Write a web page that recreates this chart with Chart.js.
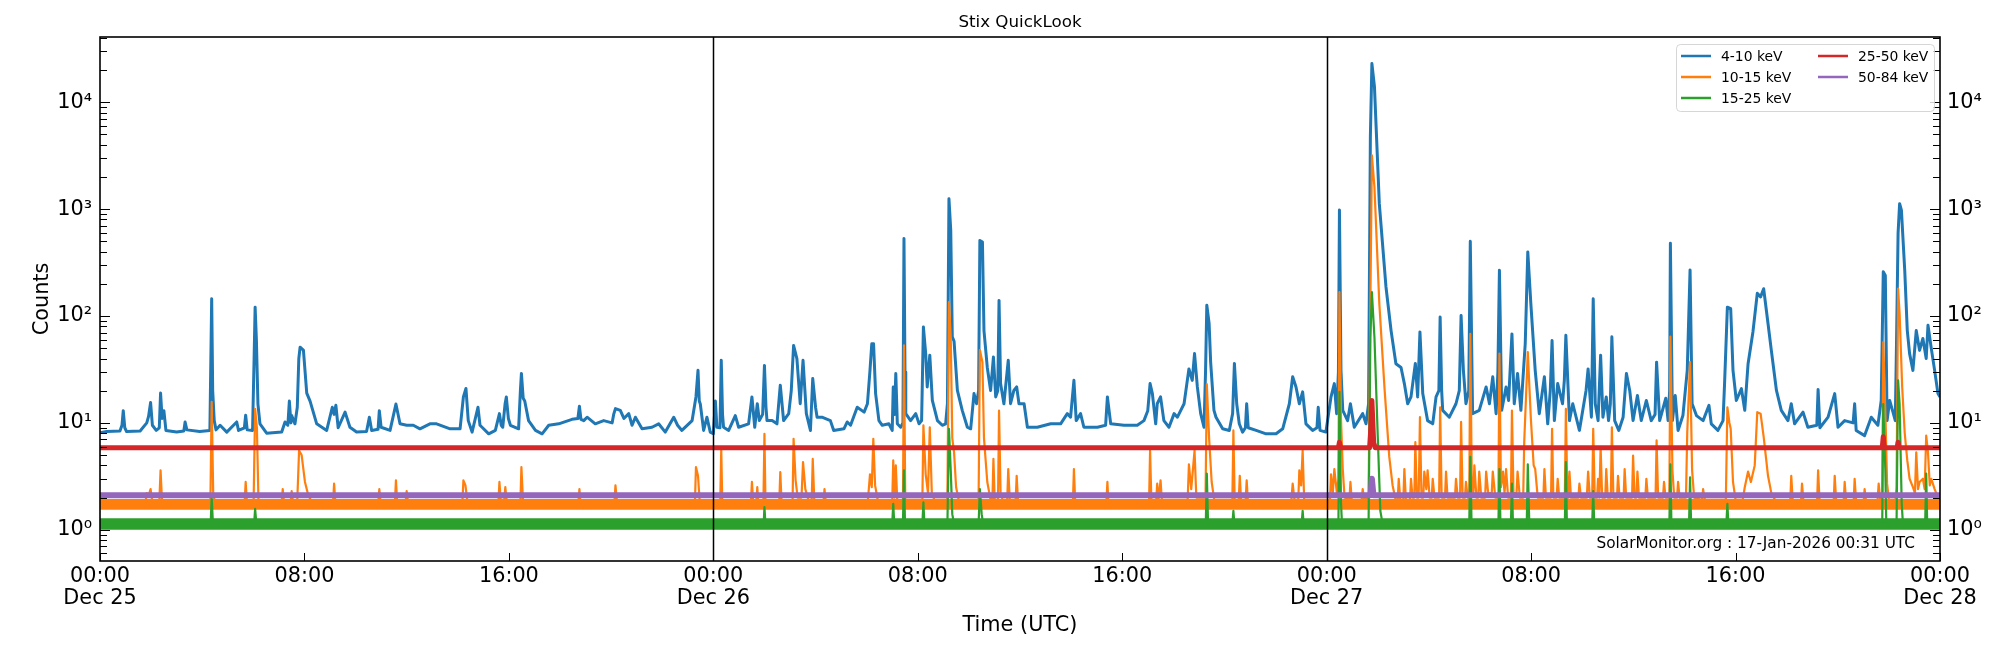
<!DOCTYPE html>
<html>
<head>
<meta charset="utf-8">
<title>Stix QuickLook</title>
<script src="https://cdn.jsdelivr.net/npm/chart.js@4.4.1/dist/chart.umd.min.js"></script>
<style>
  html, body { margin: 0; padding: 0; background: #fff; }
  #wrap { width: 2000px; height: 650px; }
</style>
</head>
<body>
<div id="wrap"><canvas id="stixChart"></canvas></div>
<script>
// time = hours since 25-Dec 00:00 UTC, value = counts
const counts4to10 = [
  [0,8.1],[0.26,8.3],[0.78,8.4],[0.86,9.5],[0.91,13],[0.97,9],[1.04,8.3],[1.57,8.4],[1.83,10],[1.9,11.5],[1.98,15.5],[2.05,9.5],[2.2,8.5],[2.32,9],[2.37,19],[2.43,11],[2.5,13],[2.58,8.5],
  [3.0,8.2],[3.28,8.4],[3.33,10.2],[3.4,8.6],[3.9,8.3],[4.3,8.5],[4.37,145],[4.41,20],[4.47,10.5],[4.54,8.6],[4.7,9.5],[4.96,8.2],[5.35,10.2],[5.42,8.5],[5.65,9],[5.7,11.8],[5.76,8.6],[5.97,8.5],
  [6.03,40],[6.07,121],[6.12,60],[6.18,15],[6.26,9.8],[6.52,8],[7.11,8.2],[7.24,10.2],[7.35,9.5],[7.41,16],[7.47,10],[7.5,11.7],[7.63,9.8],[7.72,14],[7.78,40],[7.83,51],[7.96,48],[8.09,19],[8.22,16],
  [8.48,9.8],[8.87,8.5],[9.09,14],[9.16,12],[9.23,14.6],[9.32,9],[9.59,12.6],[9.78,9.1],[10.04,8.2],[10.43,8.3],[10.54,11.3],[10.63,8.5],[10.88,8.7],[10.93,13],[11.0,9.1],[11.35,8.5],[11.58,15],
  [11.74,9.8],[12.0,9.5],[12.26,9.5],[12.52,8.8],[12.91,9.8],[13.17,9.8],[13.7,8.8],[14.09,8.8],[14.22,17.5],[14.32,21],[14.41,10.5],[14.56,8.2],
  [14.79,14],[14.87,9.5],[14.95,9.1],[15.21,7.9],[15.47,8.5],[15.63,12.2],[15.7,9.5],[15.76,9.1],[15.85,15],[15.9,17.5],[15.98,11],[16.06,9.5],[16.38,8.8],[16.45,20],[16.49,29],[16.56,17],[16.62,16],
  [16.77,10.5],[17.04,8.5],[17.3,7.9],[17.56,9.5],[17.95,9.8],[18.47,10.8],[18.7,11],[18.76,14.3],[18.82,10.8],[18.93,10.5],[19.06,11.3],[19.38,9.8],[19.71,10.5],[20.04,10],[20.1,12],[20.17,13.6],
  [20.36,13.1],[20.5,11],[20.69,12.2],[20.82,9.5],[20.95,11.3],[21.21,8.8],[21.6,9.1],[21.86,9.8],[22.12,8.2],[22.45,11.3],[22.6,9.5],[22.77,8.5],[23.17,10.5],[23.32,17.5],[23.4,31],[23.45,16],
  [23.49,15],[23.62,8.5],[23.75,11.3],[23.88,8.2],[24.0,7.9],[24.08,16],[24.14,9.1],[24.26,9],[24.31,38.5],[24.36,12],[24.4,9.1],[24.6,8.5],[24.86,11.7],[24.99,9.1],[25.38,9.8],[25.51,17.5],
  [25.62,9.1],[25.72,15.1],[25.8,10.5],[25.93,12],[26.0,34.5],[26.06,14],[26.1,10.5],[26.3,10.5],[26.49,9.8],[26.62,22.5],[26.75,10.5],[26.95,12.2],[27.05,20],[27.14,53],[27.27,40],[27.4,15.1],
  [27.51,38.5],[27.64,12.2],[27.8,8.5],[27.89,26],[28.0,14],[28.06,11.3],[28.25,11.3],[28.58,10.5],[28.71,8.5],[29.11,8.8],
  [29.24,10.2],[29.37,9.5],[29.63,14],[29.9,12.6],[30.03,15.1],[30.13,31],[30.2,55],[30.27,55],[30.35,18.8],[30.48,10.5],[30.61,9.5],[30.87,9.8],[31.0,8.5],[31.04,21.7],[31.09,12],[31.14,29],
  [31.2,9.8],[31.33,9.1],[31.42,10],[31.46,530],[31.5,30],[31.53,12.2],[31.72,10.5],[31.92,12.2],[32.05,9.8],[32.15,10.5],[32.22,79],[32.31,44.5],[32.37,21.7],[32.47,43],[32.57,16.2],[32.77,10.5],
  [32.96,9.5],[33.09,9.8],[33.16,15.1],[33.22,1250],[33.29,634],[33.35,64],[33.42,58],[33.55,20.1],[33.74,13.1],[33.94,9.1],[34.07,8.8],[34.2,18.8],[34.3,15.1],[34.38,20],[34.43,510],[34.53,492],
  [34.59,73],[34.72,33],[34.85,20.1],[34.96,41.3],[35.05,17.5],[35.13,20],[35.18,140],[35.24,23.3],[35.37,15.1],[35.54,38.5],[35.63,15.1],[35.76,20.1],[35.87,21.7],[35.96,15.1],[36.16,15.1],
  [36.29,9.1],[36.68,9.1],[37.2,9.8],[37.59,9.8],[37.85,12.2],[37.98,11.3],[38.11,25],[38.2,10.5],[38.37,12.2],[38.5,9.1],[39.03,9.1],[39.35,9.5],[39.42,17.5],[39.55,9.8],[40.07,9.5],[40.59,9.5],
  [40.85,10.5],[41.0,13],[41.09,23.3],[41.18,18.8],[41.31,9.8],[41.37,15.1],[41.5,17.5],[41.63,10.5],[41.83,9.1],[42.03,12.2],[42.16,11.3],[42.42,15.1],[42.61,32],[42.74,25],[42.83,44.5],
  [42.94,21.7],[43.07,12.2],[43.2,9.1],[43.26,30],[43.31,126],[43.4,85],[43.46,37],[43.59,13.1],[43.67,11.3],
  [43.93,8.8],[44.19,8.5],[44.32,12.2],[44.39,36],[44.48,15.1],[44.58,9.8],[44.71,8.2],[44.82,9],[44.87,15.1],[44.93,9],[45.24,8.5],[45.63,7.9],[46.02,7.9],[46.28,8.8],[46.54,15.1],[46.67,27],
  [46.8,21.7],[46.93,15.1],[47.06,19.5],[47.19,9.8],[47.45,8.5],[47.62,9],[47.67,14],[47.74,8.5],[47.97,8.2],[48.17,17.5],[48.3,23.3],[48.39,12.2],[48.46,30],[48.5,980],[48.56,31],[48.63,13.1],
  [48.82,10.5],[48.93,15.1],[49.08,9.1],[49.41,12.2],[49.54,9.8],[49.64,15.1],[49.71,4700],[49.77,23000],[49.87,14000],[50.06,1125],[50.32,188],[50.52,73],[50.71,35.8],[50.91,33],[51.04,23.3],
  [51.17,15.1],[51.3,17.5],[51.47,36],[51.56,17.5],[51.65,71],[51.76,18.8],[51.95,10.5],[52.15,9.8],[52.28,17.5],[52.39,20],[52.44,98],[52.5,20],[52.54,13.1],[52.8,11.3],[53.06,15.1],[53.19,20],
  [53.26,101],[53.35,31],[53.45,15.1],[53.56,20],[53.62,500],[53.71,12.2],[53.97,13.1],[54.24,21.7],[54.37,15.1],[54.5,27],[54.63,12.2],[54.7,30],[54.76,268],[54.85,13.1],[55.02,21.7],
  [55.12,16.2],[55.25,68],[55.34,15.1],[55.47,29],[55.6,13.1],[55.77,55],[55.87,398],[55.99,130],[56.16,31],[56.32,12.2],[56.52,27],[56.65,9.8],[56.75,20],[56.82,59],[56.91,10.5],[57.04,23.3],
  [57.23,15.1],[57.3,25],[57.36,66],[57.5,10.5],[57.63,15.1],[57.89,8.5],[58.15,20.1],[58.23,32],
  [58.36,11.3],[58.43,145],[58.51,15.1],[58.62,10.5],[58.72,43],[58.81,11.3],[58.94,17.5],[59.03,10.5],[59.1,15],[59.16,64],[59.27,10.5],[59.43,8.5],[59.6,11.3],[59.73,29],[59.86,20],[59.99,10.5],
  [60.16,18],[60.31,10.5],[60.51,16.2],[60.7,10.5],[60.85,12],[60.91,37],[61.03,10.5],[61.27,17],[61.36,10.5],[61.42,20],[61.45,480],[61.53,10.5],[61.64,18],[61.75,8.5],[61.94,11.7],[62.11,31],
  [62.22,270],[62.3,15.1],[62.47,11.7],[62.73,10.5],[62.96,14.6],[63.05,9.8],[63.31,8.5],[63.51,10.5],[63.57,23.3],[63.68,121],[63.81,117],[63.9,31],[64.03,16.2],[64.23,20.9],[64.36,13.1],
  [64.49,35.8],[64.68,71],[64.85,163],[64.98,151],[65.1,180],[65.27,85],[65.4,47.7],[65.6,20.1],[65.79,13.1],[66.05,10.5],[66.18,15.1],[66.31,9.8],[66.64,12.6],[66.83,9.1],[67.18,9.5],[67.23,20.5],
  [67.3,9],[67.62,11.3],[67.88,18.8],[68.01,9.1],[68.27,10.5],[68.6,10],[68.66,15.1],[68.72,8.5],[69.05,7.6],[69.31,11.3],[69.57,9.5],[69.7,16.2],[69.78,260],[69.86,240],[69.93,10.5],[70.03,16.2],
  [70.16,12.6],[70.25,10.5],[70.3,60],[70.36,600],[70.42,1125],[70.49,980],[70.62,268],[70.72,73],[70.81,44.5],[70.94,31],[71.07,73],[71.2,47.7],[71.33,61.6],[71.46,40],[71.53,81.8],[71.66,49.5],
  [71.79,31],[71.92,18.8],[72.0,17.5]
];

const counts10to15 = [
  [0,1.75],[1.78,1.8],[1.83,2.2],[1.9,2.1],[1.98,2.4],[2.05,1.8],[2.32,1.8],[2.37,3.6],[2.43,1.8],[4.32,1.8],[4.37,15.7],[4.43,2.2],[4.5,1.8],[5.66,1.8],[5.7,2.8],[5.75,1.8],
  [6.01,1.8],[6.07,13.5],[6.14,9],[6.2,1.9],[7.11,1.8],[7.15,2.4],[7.2,1.8],[7.46,1.8],[7.5,2.3],[7.55,1.8],[7.72,1.9],[7.79,5.5],[7.89,5.0],[8.02,2.8],[8.15,2.1],[8.3,1.8],
  [9.12,1.8],[9.16,2.7],[9.21,1.8],[10.89,1.8],[10.93,2.4],[10.98,1.8],[11.54,1.8],[11.58,2.9],[11.63,1.8],[11.96,1.8],[12.0,2.3],[12.05,1.8],[14.18,1.8],[14.22,2.9],[14.3,2.6],[14.38,1.8],
  [15.59,1.8],[15.63,2.8],[15.68,1.9],[15.82,1.9],[15.86,2.5],[15.92,1.8],[16.45,1.8],[16.49,3.86],[16.55,1.9],[18.72,1.8],[18.76,2.4],[18.8,1.8],[20.13,1.8],[20.17,2.6],[20.23,1.8],
  [23.28,1.8],[23.32,3.86],[23.4,3.2],[23.47,1.8],[24.27,1.8],[24.31,5.7],[24.35,1.8],[25.47,1.8],[25.51,2.8],[25.56,1.8],[25.68,1.8],[25.72,2.5],[25.76,1.8],[25.96,1.8],[26.0,7.9],[26.04,1.8],
  [26.58,1.8],[26.62,3.46],[26.67,1.8],[27.1,1.8],[27.14,7.1],[27.22,2.9],[27.3,2.0],[27.45,2.0],[27.51,4.3],[27.6,2.4],[27.72,1.9],[27.85,1.9],[27.89,4.6],[27.95,1.9],[28.31,1.8],[28.35,2.4],[28.4,1.8],
  [30.05,1.9],[30.13,3.3],[30.2,2.5],[30.26,7.1],[30.33,2.6],[30.45,1.8],[31.0,1.8],[31.04,4.45],[31.09,2.0],[31.14,4.0],[31.2,1.8],[31.42,1.8],[31.46,53],[31.51,1.9],
  [32.18,1.9],[32.22,9.5],[32.31,3.3],[32.4,2.2],[32.47,9.1],[32.55,2.2],[32.65,1.9],[33.16,1.9],[33.22,135],[33.29,64],[33.35,7.2],[33.42,5.3],[33.5,2.5],[33.6,1.9],
  [34.38,1.9],[34.43,48],[34.53,37],[34.59,7.2],[34.72,2.8],[34.85,1.9],[34.92,1.9],[34.96,4.6],[35.01,1.9],[35.14,1.9],[35.18,13],[35.24,2.2],[35.32,1.9],[35.5,1.9],[35.54,3.7],[35.6,1.9],
  [35.83,1.9],[35.87,3.2],[35.92,1.9],[38.07,1.8],[38.11,3.7],[38.16,1.8],[39.38,1.8],[39.42,2.8],[39.46,1.8],[41.05,1.8],[41.09,5.5],[41.14,1.9],[41.33,1.9],[41.37,2.7],[41.42,1.9],[41.5,2.9],[41.55,1.9],
  [42.56,1.9],[42.61,4.1],[42.7,2.4],[42.83,5.5],[42.9,2.0],[43.26,2.0],[43.31,23],[43.4,7.2],[43.5,2.8],[43.6,1.9],[44.31,1.9],[44.35,8.5],[44.4,1.9],
  [44.56,1.9],[44.6,3.2],[44.65,1.9],[44.83,1.9],[44.87,2.9],[44.92,1.8],[46.62,1.9],[46.67,2.7],[46.74,1.9],[46.89,1.9],[46.93,3.6],[47.0,2.6],[47.06,5.5],[47.12,1.9],
  [48.13,1.9],[48.17,3.3],[48.24,2.2],[48.3,3.7],[48.4,2.2],[48.46,3.0],[48.5,167],[48.56,11],[48.63,3.7],[48.7,2.0],[48.89,1.9],[48.93,2.8],[48.98,1.9],[49.37,1.9],[49.41,2.4],[49.47,1.9],
  [49.64,2.0],[49.71,131],[49.77,3180],[49.87,1600],[50.06,131],[50.26,21.7],[50.45,4.8],[50.58,2.6],[50.7,1.9],
  [50.78,1.9],[50.82,3.0],[50.88,1.9],[51.0,1.9],[51.04,3.7],[51.1,1.9],[51.26,1.9],[51.3,3.0],[51.36,2.0],[51.43,2.0],[51.47,6.6],[51.53,2.0],[51.6,2.0],[51.65,11.3],[51.71,2.0],[51.78,2.0],
  [51.82,3.5],[51.9,2.4],[51.95,3.6],[52.03,2.0],[52.11,2.0],[52.15,3.0],[52.22,2.0],[52.4,2.0],[52.44,14],[52.5,2.0],[52.63,2.0],[52.67,3.5],[52.73,2.0],[53.02,2.0],[53.06,3.0],[53.13,2.0],
  [53.22,2.0],[53.26,10.2],[53.32,2.0],[53.41,2.0],[53.45,2.8],[53.52,2.0],[53.58,2.0],[53.62,68],[53.68,2.5],[53.74,2.2],[53.78,4.0],[53.86,2.0],[53.93,2.0],[53.97,3.5],[54.05,2.0],
  [54.2,2.0],[54.24,3.5],[54.32,2.2],[54.46,2.2],[54.5,3.5],[54.6,2.0],[54.72,2.0],[54.76,44.5],[54.82,2.5],[54.9,3.5],[54.96,2.2],[55.02,3.7],[55.1,2.0],[55.21,2.0],[55.25,13],[55.31,2.2],
  [55.43,2.2],[55.47,3.5],[55.56,2.0],[55.69,2.0],[55.73,6.6],[55.87,46],[55.99,11],[56.1,4.0],[56.16,3.7],[56.26,2.0],[56.48,2.0],[56.52,3.7],[56.58,2.0],[56.78,2.0],[56.82,8.8],[56.87,2.0],
  [57.0,2.0],[57.04,3.0],[57.1,2.0],[57.32,2.0],[57.36,13.5],[57.42,2.0],[57.46,2.0],[57.5,3.5],[57.56,2.0],[57.85,2.0],[57.89,2.7],[57.95,2.0],
  [58.18,2.0],[58.23,3.5],[58.3,2.0],[58.39,2.0],[58.43,8.8],[58.49,2.0],[58.58,2.0],[58.62,3.0],[58.67,2.0],[58.69,2.0],[58.72,5.9],[58.78,2.0],[58.9,2.0],[58.94,3.7],[59.0,2.0],[59.12,2.0],
  [59.16,9.1],[59.22,2.0],[59.36,2.0],[59.4,3.2],[59.46,2.0],[59.62,2.0],[59.66,3.7],[59.72,2.0],[59.95,2.0],[59.99,4.95],[60.05,2.0],[60.12,2.0],[60.16,3.5],[60.22,2.0],[60.47,2.0],[60.51,3.0],
  [60.57,2.0],[60.87,2.0],[60.91,6.85],[60.97,2.0],[61.16,2.0],[61.2,2.8],[61.26,2.0],[61.41,2.0],[61.45,64],[61.53,3.6],[61.6,2.0],[61.71,2.0],[61.75,2.8],[61.81,2.0],[62.06,2.0],[62.11,8.2],
  [62.22,37],[62.3,3.6],[62.38,2.0],[62.69,1.9],[62.73,2.4],[62.8,1.9],
  [63.62,1.9],[63.68,14],[63.76,10],[63.81,8.8],[63.9,2.8],[64.0,1.9],[64.28,1.9],[64.36,2.5],[64.49,3.5],[64.6,2.8],[64.75,4.0],[64.85,12.6],[64.98,12.2],[65.1,7.4],[65.27,3.2],[65.4,2.2],[65.6,1.8],
  [66.14,1.8],[66.18,3.2],[66.24,1.8],[66.56,1.8],[66.6,2.7],[66.66,1.8],[67.19,1.8],[67.23,3.6],[67.29,1.8],[67.84,1.8],[67.88,3.2],[67.94,1.8],[68.23,1.8],[68.27,2.8],[68.33,1.8],
  [68.62,1.8],[68.66,3.0],[68.72,1.8],[69.01,1.8],[69.05,2.4],[69.11,1.8],[69.55,1.8],[69.6,2.7],[69.66,1.9],[69.74,2.0],[69.78,57],[69.86,13],[69.93,2.7],[70.0,1.9],
  [70.26,1.9],[70.3,2.5],[70.36,180],[70.42,105],[70.52,21.7],[70.62,8],[70.72,4.45],[70.81,3.0],[70.94,2.5],[71.02,2.2],[71.07,5.3],[71.14,2.4],[71.2,2.8],[71.33,3.0],[71.4,2.4],[71.46,7.6],
  [71.53,5.3],[71.6,2.6],[71.66,3.0],[71.79,2.4],[71.92,2.0],[72.0,1.9]
];

const counts15to25 = [
  [0,1.13],[4.33,1.13],[4.37,2.0],[4.42,1.13],[6.03,1.13],[6.07,1.57],[6.12,1.13],[25.97,1.13],[26.0,1.63],[26.04,1.13],[31.0,1.13],[31.04,1.75],[31.08,1.13],[31.42,1.13],[31.46,3.6],[31.5,1.13],
  [32.18,1.13],[32.22,1.8],[32.26,1.13],[33.16,1.13],[33.22,8.8],[33.29,3.6],[33.35,1.4],[33.42,1.13],[34.38,1.13],[34.43,2.4],[34.5,1.4],[34.56,1.13],[43.27,1.13],[43.31,3.35],[43.36,1.13],
  [44.31,1.13],[44.35,1.5],[44.39,1.13],[47.02,1.13],[47.06,1.5],[47.1,1.13],[48.46,1.13],[48.5,19.5],[48.56,1.8],[48.6,1.13],[49.64,1.13],[49.71,63],[49.77,167],[49.87,63],[50.0,7.4],[50.1,1.5],
  [50.2,1.1],[53.58,1.13],[53.62,4.8],[53.67,1.13],[54.72,1.13],[54.76,3.7],[54.8,1.13],[55.21,1.13],[55.25,2.7],[55.29,1.13],[55.83,1.13],[55.87,4.1],[55.93,1.13],[57.32,1.13],[57.36,4.3],[57.4,1.13],
  [58.39,1.13],[58.43,2.3],[58.47,1.13],[61.41,1.13],[61.45,4.1],[61.49,1.13],[62.18,1.13],[62.22,3.1],[62.26,1.13],[63.64,1.13],[63.68,1.75],[63.72,1.13],[69.74,1.13],[69.78,15],[69.86,3.6],
  [69.9,1.13],[70.3,1.13],[70.36,25],[70.42,15],[70.5,1.8],[70.55,1.13],[71.42,1.13],[71.46,3.35],[71.5,1.13],[72,1.13]
];

const counts25to50 = [
  [0,5.85],[48.46,5.85],[48.5,6.6],[48.54,5.85],[49.68,5.85],[49.73,9],[49.77,16.2],[49.84,6.5],[49.9,5.85],[69.74,5.85],[69.78,7.4],[69.82,5.85],[70.32,5.85],[70.36,6.6],[70.4,5.85],[72,5.85]
];

const counts50to84 = [
  [0,2.1],[49.72,2.1],[49.77,3.0],[49.83,2.1],[72,2.1]
];

// background noise envelopes of the two busy low-energy bands
const noise10to15Lo = [[0,1.54],[72,1.54]];
const noise10to15Hi = [[0,1.94],[72,1.94]];
const noise15to25Lo = [[0,1.0],[72,1.0]];
const noise15to25Hi = [[0,1.28],[72,1.28]];

const seriesNames = ['4-10 keV', '10-15 keV', '15-25 keV', '25-50 keV', '50-84 keV'];
const seriesColors = ['#1f77b4', '#ff7f0e', '#2ca02c', '#d62728', '#9467bd'];

const xTickHours = [0, 8, 16, 24, 32, 40, 48, 56, 64, 72];
const xTickText = [['00:00', 'Dec 25'], '08:00', '16:00', ['00:00', 'Dec 26'], '08:00', '16:00', ['00:00', 'Dec 27'], '08:00', '16:00', ['00:00', 'Dec 28']];
const dayLines = [24, 48];

const yMajor = [1, 10, 100, 1000, 10000];
const yMajorText = ['10⁰', '10¹', '10²', '10³', '10⁴'];
const yMinor = [0.6, 0.7, 0.8, 0.9, 2, 3, 4, 5, 6, 7, 8, 9, 20, 30, 40, 50, 60, 70, 80, 90,
  200, 300, 400, 500, 600, 700, 800, 900, 2000, 3000, 4000, 5000, 6000, 7000, 8000, 9000, 20000, 30000, 40000];
const yMin = 0.51, yMax = 40800;

const xy = arr => arr.map(([x, y]) => ({ x, y }));
const FONT = 'DejaVu Sans';

function yTicks(scale) {
  scale.ticks = yMajor.concat(yMinor).sort((a, b) => a - b).map(v => ({ value: v, major: yMajor.includes(v) }));
}
function yLabel(v) {
  const i = yMajor.indexOf(v);
  return i >= 0 ? yMajorText[i] : '';
}

const framePlugin = {
  id: 'frame',
  afterDatasetsDraw(chart) {
    const { ctx, chartArea: a, scales: { x, y } } = chart;
    ctx.save();
    ctx.strokeStyle = '#000';
    ctx.lineWidth = 1.5;
    ctx.beginPath();
    for (const h of dayLines) {
      const px = Math.round(x.getPixelForValue(h)) + 0.5;
      ctx.moveTo(px, a.top);
      ctx.lineTo(px, a.bottom);
    }
    ctx.stroke();

    ctx.lineWidth = 1;
    ctx.beginPath();
    for (const h of xTickHours) {
      const px = Math.round(x.getPixelForValue(h)) + 0.5;
      ctx.moveTo(px, a.bottom);
      ctx.lineTo(px, a.bottom - 8);
    }
    for (const t of y.ticks) {
      const py = Math.round(y.getPixelForValue(t.value)) + 0.5;
      const len = yMajor.includes(t.value) ? 10 : 7;
      ctx.moveTo(a.left, py);
      ctx.lineTo(a.left + len, py);
      ctx.moveTo(a.right, py);
      ctx.lineTo(a.right - len, py);
    }
    ctx.stroke();

    ctx.lineWidth = 1.6;
    ctx.strokeRect(a.left, a.top, a.right - a.left, a.bottom - a.top);
    ctx.restore();
  },
  afterDraw(chart) {
    const { ctx, chartArea: a } = chart;
    ctx.save();
    ctx.fillStyle = '#000';
    ctx.textBaseline = 'middle';

    ctx.font = `16.7px "${FONT}"`;
    ctx.textAlign = 'center';
    ctx.fillText('Stix QuickLook', (a.left + a.right) / 2, 23);

    ctx.font = `15.3px "${FONT}"`;
    ctx.textAlign = 'right';
    ctx.fillText('SolarMonitor.org : 17-Jan-2026 00:31 UTC', a.right - 25, a.bottom - 17);

    // legend, two columns like matplotlib ncol=2
    const bx = a.right - 264, by = a.top + 7, bw = 258, bh = 67;
    ctx.beginPath();
    ctx.roundRect(bx + 0.5, by + 0.5, bw, bh, 4);
    ctx.fillStyle = 'rgba(255,255,255,0.8)';
    ctx.fill();
    ctx.strokeStyle = 'rgba(204,204,204,0.8)';
    ctx.lineWidth = 1;
    ctx.stroke();

    ctx.font = `13.9px "${FONT}"`;
    ctx.textAlign = 'left';
    seriesNames.forEach((name, i) => {
      const col = i < 3 ? 0 : 1;
      const row = i < 3 ? i : i - 3;
      const lx = bx + 5 + col * 137;
      const ly = by + 12 + row * 21;
      ctx.strokeStyle = seriesColors[i];
      ctx.lineWidth = 2.5;
      ctx.beginPath();
      ctx.moveTo(lx, ly);
      ctx.lineTo(lx + 30, ly);
      ctx.stroke();
      ctx.fillStyle = '#000';
      ctx.fillText(name, lx + 40, ly + 1);
    });
    ctx.restore();
  }
};

const lineBase = { pointRadius: 0, tension: 0, borderJoinStyle: 'round', fill: false };
const noiseBase = { ...lineBase, borderColor: 'transparent', borderWidth: 0 };

new Chart(document.getElementById('stixChart'), {
  type: 'line',
  data: {
    datasets: [
      { ...lineBase, label: seriesNames[0], data: xy(counts4to10), borderColor: seriesColors[0], borderWidth: 3, order: 9 },
      { ...noiseBase, label: 'noise lo', data: xy(noise10to15Lo), order: 8 },
      { ...noiseBase, label: 'noise hi', data: xy(noise10to15Hi), fill: '-1', backgroundColor: seriesColors[1], order: 8 },
      { ...lineBase, label: seriesNames[1], data: xy(counts10to15), borderColor: seriesColors[1], borderWidth: 2.2, order: 7 },
      { ...noiseBase, label: 'noise lo', data: xy(noise15to25Lo), order: 6 },
      { ...noiseBase, label: 'noise hi', data: xy(noise15to25Hi), fill: '-1', backgroundColor: seriesColors[2], order: 6 },
      { ...lineBase, label: seriesNames[2], data: xy(counts15to25), borderColor: seriesColors[2], borderWidth: 2.2, order: 5 },
      { ...lineBase, label: seriesNames[3], data: xy(counts25to50), borderColor: seriesColors[3], borderWidth: 5, order: 4 },
      { ...lineBase, label: seriesNames[4], data: xy(counts50to84), borderColor: seriesColors[4], borderWidth: 6, order: 3 }
    ]
  },
  options: {
    responsive: true,
    maintainAspectRatio: false,
    animation: false,
    layout: { padding: { top: 37, left: 0, right: 0, bottom: 0 } },
    plugins: { legend: { display: false }, tooltip: { enabled: false }, title: { display: false } },
    scales: {
      x: {
        type: 'linear', min: 0, max: 72,
        afterFit: s => { s.height = 89; },
        afterBuildTicks: s => { s.ticks = xTickHours.map(v => ({ value: v })); },
        grid: { display: false, drawTicks: false },
        border: { display: false },
        ticks: {
          autoSkip: false, maxRotation: 0, padding: 4, color: '#000',
          font: { family: FONT, size: 20.8, lineHeight: 1.08 },
          callback: v => { const i = xTickHours.indexOf(v); return i >= 0 ? xTickText[i] : ''; }
        },
        title: { display: true, text: 'Time (UTC)', color: '#000', font: { family: FONT, size: 20.8 }, padding: { top: 0, bottom: 12 } }
      },
      y: {
        type: 'logarithmic', position: 'left', min: yMin, max: yMax,
        afterFit: s => { s.width = 100; },
        afterBuildTicks: yTicks,
        grid: { display: false, drawTicks: false },
        border: { display: false },
        ticks: { autoSkip: false, padding: 8, color: '#000', font: { family: FONT, size: 20.8 }, callback: yLabel },
        title: { display: true, text: 'Counts', color: '#000', font: { family: FONT, size: 20.8 }, padding: { top: 30, bottom: 0 } }
      },
      y2: {
        type: 'logarithmic', position: 'right', min: yMin, max: yMax,
        afterFit: s => { s.width = 60; },
        afterBuildTicks: yTicks,
        grid: { display: false, drawTicks: false },
        border: { display: false },
        ticks: { autoSkip: false, padding: 7, color: '#000', font: { family: FONT, size: 20.8 }, callback: yLabel }
      }
    }
  },
  plugins: [framePlugin]
});
</script>
</body>
</html>
